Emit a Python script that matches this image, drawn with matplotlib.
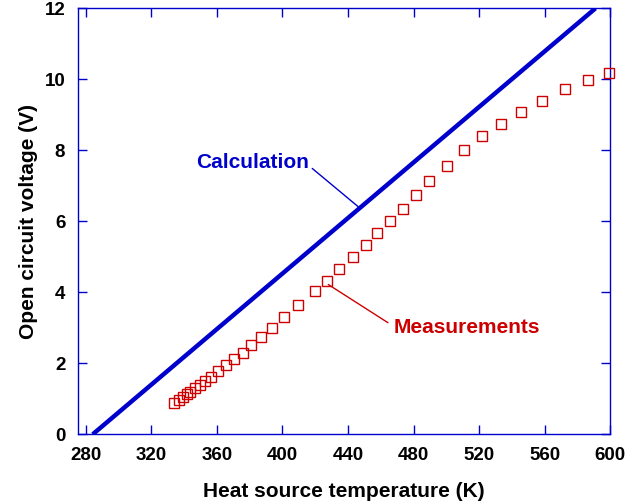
import matplotlib
matplotlib.use("Agg")
import matplotlib.pyplot as plt

plt.rcParams['font.family'] = ['Liberation Sans', 'DejaVu Sans']

# Calculation line (end points)
calc_T = [284.3, 591.0]
calc_V = [0.0, 12.0]

# Measurements
meas_T = [334.1, 337.0, 339.2, 341.6, 343.7, 346.5, 349.6, 352.8, 356.5, 360.9,
          365.6, 370.5, 375.8, 381.0, 387.0, 393.9, 401.2, 409.7, 419.7, 427.0,
          434.5, 442.9, 450.8, 457.9, 465.4, 473.4, 481.5, 489.6, 500.2, 510.7,
          521.5, 533.3, 545.7, 558.5, 572.2, 586.4, 599.2]
meas_V = [0.87, 0.97, 1.06, 1.13, 1.20, 1.30, 1.39, 1.51, 1.62, 1.79,
          1.95, 2.13, 2.30, 2.52, 2.74, 3.00, 3.30, 3.63, 4.04, 4.33,
          4.66, 5.00, 5.34, 5.66, 6.01, 6.35, 6.74, 7.14, 7.57, 8.00,
          8.40, 8.74, 9.07, 9.40, 9.72, 9.99, 10.19]

x_ticks = [280, 320, 360, 400, 440, 480, 520, 560, 600]
y_ticks = [0, 2, 4, 6, 8, 10, 12]

BLUE = '#0000cc'
RED = '#cc0000'

fig = plt.figure(figsize=(6.43, 5.01), dpi=100)
ax = fig.add_axes([0.121, 0.1331, 0.949 - 0.121, 0.9834 - 0.1331])

ax.plot(calc_T, calc_V, color=BLUE, lw=3.2, solid_capstyle='butt', zorder=3)
ax.plot(meas_T, meas_V, linestyle='none', marker='s', markersize=7.8,
        markerfacecolor='none', markeredgecolor=RED, markeredgewidth=1.0,
        zorder=4, clip_on=False)

ax.set_xlim(275.2, 600)
ax.set_ylim(0, 12)
ax.set_xticks(x_ticks)
ax.set_yticks(y_ticks)

for s in ax.spines.values():
    s.set_color(BLUE)
    s.set_linewidth(1.0)

ax.tick_params(direction='in', length=6.7, width=1.0, color=BLUE,
               top=True, right=True, labelsize=13.5, labelcolor='black')
ax.tick_params(axis='x', pad=9)
ax.tick_params(axis='y', pad=9)
for lab in ax.get_xticklabels() + ax.get_yticklabels():
    lab.set_fontweight('bold')

ax.set_xlabel('Heat source temperature (K)', fontsize=15, fontweight='bold', labelpad=13)
ax.set_ylabel('Open circuit voltage (V)', fontsize=15, fontweight='bold', labelpad=5)

ax.annotate('Calculation', xy=(446.3, 6.41), xytext=(347.3, 7.65),
            color=BLUE, fontsize=15, fontweight='bold', ha='left', va='center',
            arrowprops=dict(arrowstyle='-', color=BLUE, lw=1.0,
                            shrinkA=0, shrinkB=0, relpos=(1.03, 0.2)))
ax.annotate('Measurements', xy=(428.0, 4.22), xytext=(468.0, 3.01),
            color=RED, fontsize=15, fontweight='bold', ha='left', va='center',
            arrowprops=dict(arrowstyle='-', color=RED, lw=1.0,
                            shrinkA=0, shrinkB=0, relpos=(-0.04, 0.75)))

fig.savefig('out.png', dpi=100)
